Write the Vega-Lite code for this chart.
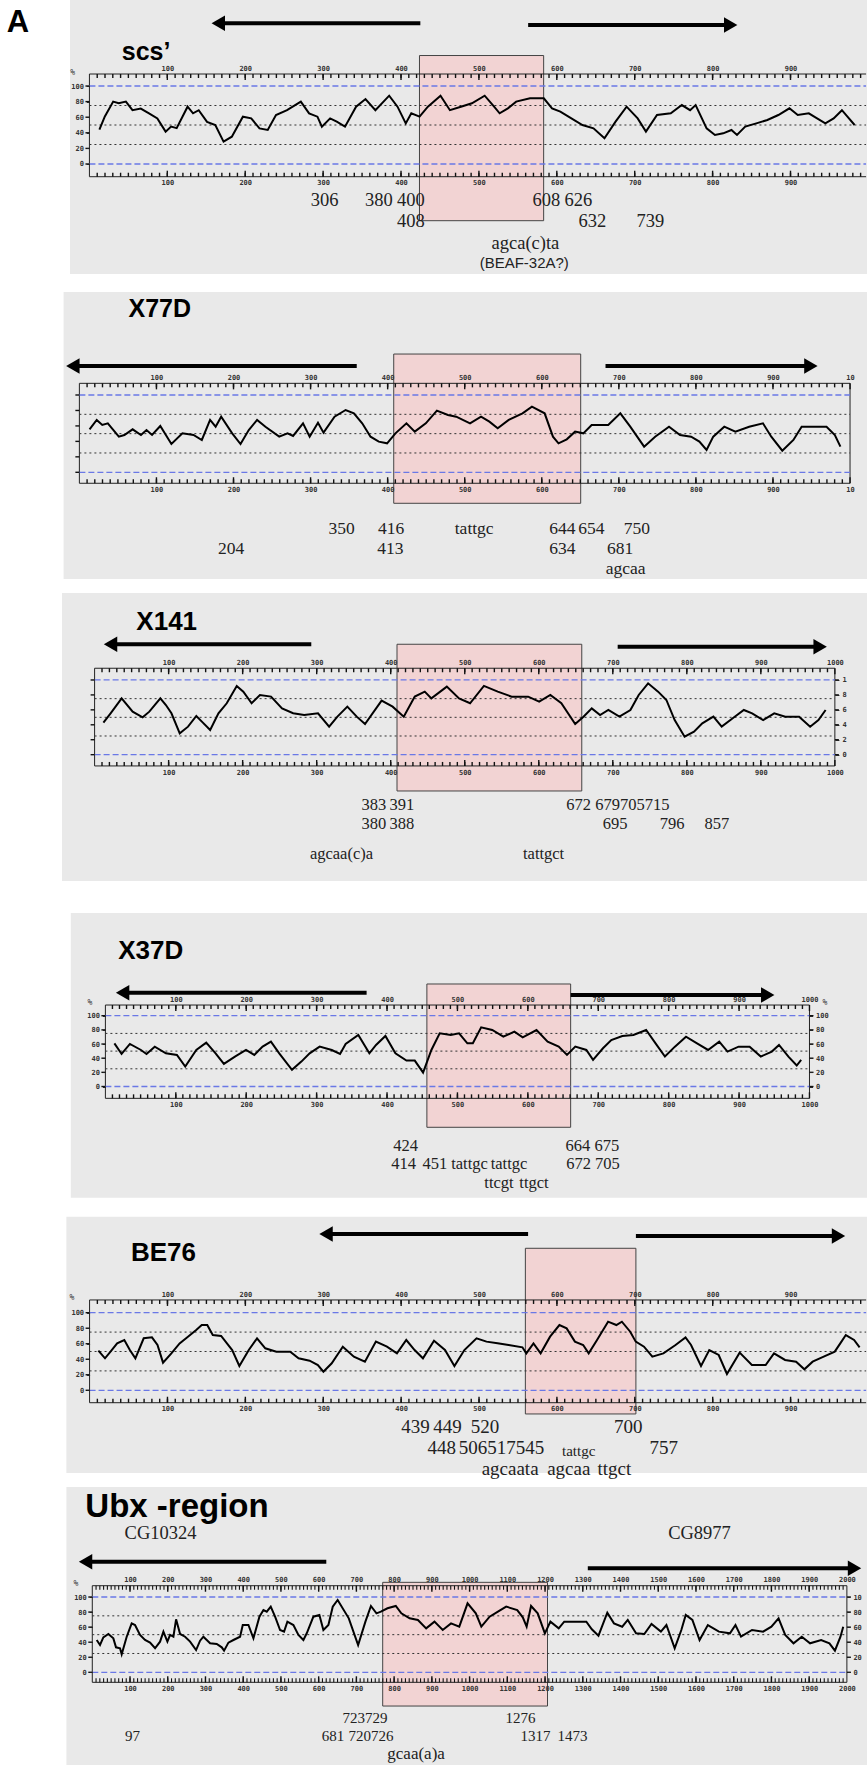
{
"$schema":"https://vega.github.io/schema/vega-lite/v6.json",
"padding":0,"background":"white","spacing":0,"bounds":"flush",
"config":{"view":{"stroke":null},"axis":{"labelFont":"DejaVu Sans Mono","labelFontSize":7,"labelFontWeight":"bold","labelColor":"#333","tickColor":"#222","tickWidth":1,"domain":false,"grid":false,"labelOverlap":false,"labelFlush":false}},
"datasets":{
"m1":[{"x":10},{"x":20},{"x":30},{"x":40},{"x":50},{"x":60},{"x":70},{"x":80},{"x":90},{"x":100},{"x":110},{"x":120},{"x":130},{"x":140},{"x":150},{"x":160},{"x":170},{"x":180},{"x":190},{"x":200},{"x":210},{"x":220},{"x":230},{"x":240},{"x":250},{"x":260},{"x":270},{"x":280},{"x":290},{"x":300},{"x":310},{"x":320},{"x":330},{"x":340},{"x":350},{"x":360},{"x":370},{"x":380},{"x":390},{"x":400},{"x":410},{"x":420},{"x":430},{"x":440},{"x":450},{"x":460},{"x":470},{"x":480},{"x":490},{"x":500},{"x":510},{"x":520},{"x":530},{"x":540},{"x":550},{"x":560},{"x":570},{"x":580},{"x":590},{"x":600},{"x":610},{"x":620},{"x":630},{"x":640},{"x":650},{"x":660},{"x":670},{"x":680},{"x":690},{"x":700},{"x":710},{"x":720},{"x":730},{"x":740},{"x":750},{"x":760},{"x":770},{"x":780},{"x":790},{"x":800},{"x":810},{"x":820},{"x":830},{"x":840},{"x":850},{"x":860},{"x":870},{"x":880},{"x":890},{"x":900},{"x":910},{"x":920},{"x":930},{"x":940},{"x":950},{"x":960},{"x":970},{"x":980},{"x":990}],
"m2":[{"x":10},{"x":20},{"x":30},{"x":40},{"x":50},{"x":60},{"x":70},{"x":80},{"x":90},{"x":100},{"x":110},{"x":120},{"x":130},{"x":140},{"x":150},{"x":160},{"x":170},{"x":180},{"x":190},{"x":200},{"x":210},{"x":220},{"x":230},{"x":240},{"x":250},{"x":260},{"x":270},{"x":280},{"x":290},{"x":300},{"x":310},{"x":320},{"x":330},{"x":340},{"x":350},{"x":360},{"x":370},{"x":380},{"x":390},{"x":400},{"x":410},{"x":420},{"x":430},{"x":440},{"x":450},{"x":460},{"x":470},{"x":480},{"x":490},{"x":500},{"x":510},{"x":520},{"x":530},{"x":540},{"x":550},{"x":560},{"x":570},{"x":580},{"x":590},{"x":600},{"x":610},{"x":620},{"x":630},{"x":640},{"x":650},{"x":660},{"x":670},{"x":680},{"x":690},{"x":700},{"x":710},{"x":720},{"x":730},{"x":740},{"x":750},{"x":760},{"x":770},{"x":780},{"x":790},{"x":800},{"x":810},{"x":820},{"x":830},{"x":840},{"x":850},{"x":860},{"x":870},{"x":880},{"x":890},{"x":900},{"x":910},{"x":920},{"x":930},{"x":940},{"x":950},{"x":960},{"x":970},{"x":980},{"x":990},{"x":1000},{"x":1010},{"x":1020},{"x":1030},{"x":1040},{"x":1050},{"x":1060},{"x":1070},{"x":1080},{"x":1090},{"x":1100},{"x":1110},{"x":1120},{"x":1130},{"x":1140},{"x":1150},{"x":1160},{"x":1170},{"x":1180},{"x":1190},{"x":1200},{"x":1210},{"x":1220},{"x":1230},{"x":1240},{"x":1250},{"x":1260},{"x":1270},{"x":1280},{"x":1290},{"x":1300},{"x":1310},{"x":1320},{"x":1330},{"x":1340},{"x":1350},{"x":1360},{"x":1370},{"x":1380},{"x":1390},{"x":1400},{"x":1410},{"x":1420},{"x":1430},{"x":1440},{"x":1450},{"x":1460},{"x":1470},{"x":1480},{"x":1490},{"x":1500},{"x":1510},{"x":1520},{"x":1530},{"x":1540},{"x":1550},{"x":1560},{"x":1570},{"x":1580},{"x":1590},{"x":1600},{"x":1610},{"x":1620},{"x":1630},{"x":1640},{"x":1650},{"x":1660},{"x":1670},{"x":1680},{"x":1690},{"x":1700},{"x":1710},{"x":1720},{"x":1730},{"x":1740},{"x":1750},{"x":1760},{"x":1770},{"x":1780},{"x":1790},{"x":1800},{"x":1810},{"x":1820},{"x":1830},{"x":1840},{"x":1850},{"x":1860},{"x":1870},{"x":1880},{"x":1890},{"x":1900},{"x":1910},{"x":1920},{"x":1930},{"x":1940},{"x":1950},{"x":1960},{"x":1970},{"x":1980},{"x":1990}],
"M9":[{"x":100},{"x":200},{"x":300},{"x":400},{"x":500},{"x":600},{"x":700},{"x":800},{"x":900}],
"M10":[{"x":100},{"x":200},{"x":300},{"x":400},{"x":500},{"x":600},{"x":700},{"x":800},{"x":900},{"x":1000}],
"M20":[{"x":100},{"x":200},{"x":300},{"x":400},{"x":500},{"x":600},{"x":700},{"x":800},{"x":900},{"x":1000},{"x":1100},{"x":1200},{"x":1300},{"x":1400},{"x":1500},{"x":1600},{"x":1700},{"x":1800},{"x":1900}],
"yt":[{"y":0},{"y":20},{"y":40},{"y":60},{"y":80},{"y":100}],
"c1":[{"x":12.8,"v":44},{"x":19.8,"v":61},{"x":30.5,"v":80},{"x":37.6,"v":78},{"x":46.8,"v":80},{"x":55.3,"v":69},{"x":65.9,"v":71},{"x":76.5,"v":65},{"x":87.2,"v":58.5},{"x":97.8,"v":41.5},{"x":104.9,"v":48},{"x":112,"v":46},{"x":126,"v":73.5},{"x":133,"v":65},{"x":140.3,"v":69},{"x":151,"v":54},{"x":161.6,"v":50},{"x":172.2,"v":28.6},{"x":182.8,"v":35},{"x":197,"v":60.7},{"x":207.7,"v":58.5},{"x":218.3,"v":45.7},{"x":228.9,"v":43.6},{"x":239.5,"v":62.8},{"x":253.7,"v":69},{"x":271.4,"v":80},{"x":282,"v":65},{"x":292.7,"v":60.7},{"x":298.4,"v":47.9},{"x":309,"v":58.5},{"x":317.5,"v":54.3},{"x":328.1,"v":47.9},{"x":342.3,"v":73.5},{"x":354.4,"v":83.3},{"x":367.1,"v":69},{"x":384.8,"v":87.6},{"x":395.5,"v":73.5},{"x":406.1,"v":52.1},{"x":413.2,"v":65},{"x":423.8,"v":60.7},{"x":434.5,"v":73.5},{"x":450.7,"v":87.6},{"x":462.8,"v":69},{"x":476.9,"v":73.5},{"x":491,"v":77.8},{"x":507.4,"v":87.6},{"x":519.5,"v":73.5},{"x":526.6,"v":65},{"x":537.2,"v":71.4},{"x":547.8,"v":80},{"x":565.6,"v":84.2},{"x":583.3,"v":84.2},{"x":593.9,"v":71.4},{"x":604.5,"v":67.1},{"x":618.7,"v":58.5},{"x":632.9,"v":50},{"x":647.1,"v":45.7},{"x":661.2,"v":33},{"x":675.4,"v":54.3},{"x":689.6,"v":73.5},{"x":703.8,"v":58.5},{"x":714.4,"v":41.5},{"x":728.6,"v":62.8},{"x":746.3,"v":65},{"x":760.5,"v":75.6},{"x":771.1,"v":69},{"x":778.2,"v":75.6},{"x":792.3,"v":45.7},{"x":803,"v":37.2},{"x":813.6,"v":39.3},{"x":824.2,"v":43.6},{"x":831.3,"v":37.2},{"x":841.9,"v":47.9},{"x":856.1,"v":52.1},{"x":870.3,"v":56.4},{"x":884.4,"v":62.8},{"x":898.6,"v":71.4},{"x":909.3,"v":62.8},{"x":923.5,"v":65},{"x":934.1,"v":58.5},{"x":944.7,"v":52.1},{"x":955.4,"v":58.5},{"x":966,"v":69},{"x":973.1,"v":60.7},{"x":982.3,"v":50}],
"c2":[{"x":13.2,"v":55.6},{"x":22.5,"v":67.7},{"x":29.7,"v":61.2},{"x":36.9,"v":63.4},{"x":51.2,"v":46.1},{"x":58.4,"v":48.3},{"x":69.1,"v":55.6},{"x":79.9,"v":48.3},{"x":87.1,"v":54.7},{"x":94.3,"v":48.3},{"x":105,"v":59.9},{"x":119.4,"v":36.6},{"x":133.7,"v":50.4},{"x":148.1,"v":48.3},{"x":158.9,"v":41.8},{"x":169.6,"v":67.7},{"x":176.8,"v":59},{"x":184,"v":72},{"x":198.3,"v":50.4},{"x":209.1,"v":36.6},{"x":219.8,"v":54.7},{"x":230.6,"v":67.7},{"x":241.4,"v":59},{"x":259.3,"v":46.1},{"x":270.1,"v":50.4},{"x":277.3,"v":47},{"x":290.2,"v":63.4},{"x":298.8,"v":46.1},{"x":309.6,"v":64.2},{"x":316.8,"v":51.3},{"x":331.1,"v":72},{"x":345.5,"v":80.6},{"x":356.2,"v":76.3},{"x":367,"v":63.4},{"x":377.8,"v":46.1},{"x":388.5,"v":39.7},{"x":399.3,"v":37.5},{"x":410.1,"v":50.4},{"x":424.4,"v":63.4},{"x":435.2,"v":52.6},{"x":449.5,"v":63.4},{"x":463.9,"v":79.7},{"x":478.2,"v":74.1},{"x":489,"v":72},{"x":506.9,"v":63.4},{"x":521.2,"v":72},{"x":532,"v":65.5},{"x":542.8,"v":56.9},{"x":557.1,"v":67.7},{"x":575,"v":76.3},{"x":587.2,"v":84.9},{"x":603.7,"v":76.3},{"x":614.5,"v":46.1},{"x":621.7,"v":37.5},{"x":632.4,"v":42.7},{"x":643.2,"v":52.6},{"x":653.9,"v":50.4},{"x":664.7,"v":61.2},{"x":686.2,"v":61.2},{"x":701.9,"v":76.3},{"x":714.8,"v":59},{"x":732.8,"v":33.2},{"x":747.1,"v":46.1},{"x":765.1,"v":59},{"x":779.4,"v":48.3},{"x":793.8,"v":46.1},{"x":804.5,"v":39.7},{"x":813.8,"v":28.9},{"x":822.5,"v":46.1},{"x":836.8,"v":59},{"x":851.2,"v":52.6},{"x":869.1,"v":59},{"x":887,"v":63.4},{"x":897.8,"v":46.1},{"x":912.1,"v":28},{"x":926.5,"v":41.8},{"x":937.2,"v":59},{"x":951.6,"v":59},{"x":969.5,"v":59},{"x":980.3,"v":48.3},{"x":987.5,"v":33.2}],
"c3":[{"x":11.9,"v":42.9},{"x":21.6,"v":55.4},{"x":36.5,"v":75.4},{"x":51.4,"v":57.6},{"x":64.9,"v":50},{"x":73.9,"v":57.6},{"x":88.8,"v":75.4},{"x":96.3,"v":66.5},{"x":103.8,"v":55.4},{"x":115,"v":28.6},{"x":126.2,"v":37.5},{"x":137.4,"v":51.8},{"x":144.9,"v":44.2},{"x":156.1,"v":33},{"x":167.3,"v":55.4},{"x":178.5,"v":68.8},{"x":192,"v":92},{"x":200.9,"v":84.4},{"x":212.1,"v":68.8},{"x":223.3,"v":79.9},{"x":238.3,"v":77.7},{"x":253.2,"v":62},{"x":268.2,"v":55.4},{"x":283.1,"v":53.1},{"x":301.8,"v":55.4},{"x":316.8,"v":37.5},{"x":328,"v":50.9},{"x":341.4,"v":64.3},{"x":354.1,"v":50.9},{"x":365.3,"v":41.1},{"x":387.7,"v":72.3},{"x":402.6,"v":64.3},{"x":417.6,"v":50.9},{"x":432.5,"v":77.7},{"x":446,"v":84.4},{"x":454.9,"v":75.4},{"x":475.8,"v":91.1},{"x":492.3,"v":75.4},{"x":507.2,"v":68.8},{"x":525.9,"v":92},{"x":544.6,"v":84.4},{"x":563.3,"v":77.7},{"x":585.7,"v":77.7},{"x":600.6,"v":71},{"x":615.6,"v":79.9},{"x":630.5,"v":68.8},{"x":649.2,"v":41.1},{"x":660.4,"v":50.9},{"x":671.6,"v":62},{"x":682.8,"v":53.1},{"x":694,"v":59.8},{"x":708.9,"v":50.9},{"x":723.8,"v":59.8},{"x":735,"v":79.9},{"x":747.7,"v":95.5},{"x":761.2,"v":84.4},{"x":772.4,"v":73.2},{"x":783.6,"v":46.4},{"x":797,"v":24.1},{"x":809.7,"v":30.8},{"x":820.9,"v":42},{"x":835.9,"v":50.9},{"x":847.1,"v":37.5},{"x":862,"v":48.7},{"x":877,"v":59.8},{"x":888.2,"v":55.4},{"x":903.1,"v":46.4},{"x":918.1,"v":55.4},{"x":933,"v":50.9},{"x":951.7,"v":50.9},{"x":966.6,"v":37.5},{"x":977.8,"v":46.4},{"x":987.5,"v":59.8}],
"c4":[{"x":12.8,"v":61},{"x":23,"v":46},{"x":34.8,"v":60.1},{"x":50.5,"v":51.6},{"x":58.4,"v":46},{"x":70.1,"v":56.3},{"x":85.9,"v":46.9},{"x":101.6,"v":44.6},{"x":113.4,"v":28.2},{"x":129.1,"v":51.6},{"x":143.2,"v":62},{"x":156.5,"v":46.9},{"x":168.3,"v":31.9},{"x":184,"v":42.3},{"x":199.7,"v":51.6},{"x":211.5,"v":44.6},{"x":223.3,"v":56.3},{"x":235.1,"v":63.4},{"x":246.9,"v":46.9},{"x":265,"v":23.5},{"x":278.3,"v":35.2},{"x":290.1,"v":46.9},{"x":304.3,"v":56.3},{"x":321.5,"v":51.6},{"x":333.3,"v":46},{"x":341.2,"v":60.1},{"x":359.2,"v":72.8},{"x":374.9,"v":46.9},{"x":384.4,"v":58.7},{"x":397.7,"v":71.4},{"x":411.9,"v":46.9},{"x":427.6,"v":36.6},{"x":439.4,"v":36.6},{"x":451.2,"v":19.7},{"x":463,"v":51.6},{"x":474.8,"v":75.1},{"x":490.5,"v":72.8},{"x":502.3,"v":75.1},{"x":514.1,"v":61},{"x":521.9,"v":61},{"x":533.7,"v":83.6},{"x":549.4,"v":79.8},{"x":565.2,"v":70.4},{"x":580.9,"v":77.5},{"x":592.7,"v":69.5},{"x":612.3,"v":79.8},{"x":628.1,"v":63.4},{"x":643.8,"v":56.3},{"x":655.6,"v":44.6},{"x":667.4,"v":56.3},{"x":683.1,"v":51.6},{"x":692.6,"v":37.6},{"x":706.7,"v":54},{"x":718.5,"v":65.7},{"x":734.2,"v":71.4},{"x":749.9,"v":72.8},{"x":768,"v":79.8},{"x":781.4,"v":61},{"x":794.7,"v":42.3},{"x":808.9,"v":56.3},{"x":824.6,"v":70.4},{"x":840.3,"v":61},{"x":856,"v":51.6},{"x":871.8,"v":63.4},{"x":883.6,"v":49.3},{"x":899.3,"v":56.3},{"x":915,"v":56.3},{"x":930.8,"v":42.3},{"x":946.5,"v":49.3},{"x":956.7,"v":58.7},{"x":970.1,"v":42.3},{"x":981.9,"v":29.6},{"x":988.2,"v":37.6}],
"c5":[{"x":11.3,"v":51.1},{"x":19.8,"v":41.2},{"x":26.9,"v":49.8},{"x":35.4,"v":60.5},{"x":44.6,"v":64.8},{"x":51.7,"v":51.9},{"x":58.8,"v":41.2},{"x":69.5,"v":67},{"x":80.1,"v":68.2},{"x":87.2,"v":58.4},{"x":94.3,"v":35.6},{"x":105,"v":47.6},{"x":115.6,"v":60.5},{"x":126.3,"v":69.1},{"x":136.9,"v":77.7},{"x":144,"v":84.1},{"x":151.1,"v":84.1},{"x":158.2,"v":71.2},{"x":168.9,"v":70},{"x":183.1,"v":51.9},{"x":192.3,"v":31.3},{"x":204.4,"v":51.9},{"x":215,"v":67},{"x":225.6,"v":54.1},{"x":239.8,"v":49.8},{"x":257.6,"v":49.8},{"x":268.3,"v":41.2},{"x":282.5,"v":38.2},{"x":293.1,"v":32.6},{"x":300.2,"v":24},{"x":310.9,"v":34.8},{"x":325.1,"v":56.2},{"x":339.3,"v":43.3},{"x":353.5,"v":36.9},{"x":367.6,"v":62.7},{"x":381.8,"v":56.2},{"x":394.6,"v":47.6},{"x":406.6,"v":64.8},{"x":417.3,"v":51.9},{"x":428,"v":41.2},{"x":442.2,"v":63.9},{"x":456.3,"v":51.9},{"x":468.4,"v":31.3},{"x":481.2,"v":51.9},{"x":496.8,"v":67},{"x":509.6,"v":62.7},{"x":523.8,"v":60.5},{"x":538,"v":58.4},{"x":555.7,"v":55.4},{"x":560.7,"v":47.6},{"x":569.9,"v":60.5},{"x":579.1,"v":47.6},{"x":591.2,"v":69.1},{"x":603.2,"v":84.1},{"x":612.5,"v":79.8},{"x":623.1,"v":62.7},{"x":633.7,"v":58.4},{"x":640.8,"v":47.6},{"x":651.5,"v":64.8},{"x":665.7,"v":88.4},{"x":676.3,"v":84.1},{"x":683.4,"v":88.4},{"x":694.1,"v":75.5},{"x":701.2,"v":62.7},{"x":711.8,"v":56.2},{"x":722.5,"v":43.3},{"x":736.7,"v":47.6},{"x":752.3,"v":58.4},{"x":765.1,"v":68.2},{"x":772.2,"v":58.4},{"x":785,"v":31.3},{"x":795.6,"v":51.9},{"x":807.7,"v":45.5},{"x":818.3,"v":21},{"x":834.6,"v":48.5},{"x":850.3,"v":32.6},{"x":868,"v":32.6},{"x":878.7,"v":47.6},{"x":892.9,"v":39.1},{"x":907.1,"v":36.9},{"x":917.7,"v":27},{"x":928.3,"v":36.9},{"x":942.5,"v":43.3},{"x":956.7,"v":49.8},{"x":963.8,"v":60.5},{"x":970.9,"v":71.2},{"x":981.5,"v":64.8},{"x":988.6,"v":55.4}],
"c6":[{"x":11.7,"v":42.9},{"x":20.5,"v":36.3},{"x":29.3,"v":46.5},{"x":42.6,"v":50.9},{"x":55.8,"v":45.1},{"x":62.9,"v":33.2},{"x":73.5,"v":31.9},{"x":77.9,"v":23.9},{"x":91.2,"v":47.3},{"x":104.4,"v":65},{"x":113.3,"v":62.8},{"x":126.5,"v":49.6},{"x":139.8,"v":42.9},{"x":153.1,"v":39.4},{"x":166.4,"v":31.9},{"x":179.6,"v":40.7},{"x":188.5,"v":54},{"x":199.1,"v":40.7},{"x":206.2,"v":49.6},{"x":215,"v":47.3},{"x":222.1,"v":70.4},{"x":232.7,"v":50.9},{"x":245.9,"v":47.3},{"x":259.2,"v":40.7},{"x":275.1,"v":29.6},{"x":285.7,"v":42},{"x":294.5,"v":47.3},{"x":312.2,"v":38.5},{"x":329.9,"v":37.6},{"x":343.1,"v":33.2},{"x":349.3,"v":28.8},{"x":360.8,"v":39.4},{"x":374.1,"v":42.9},{"x":391.7,"v":47.3},{"x":398.8,"v":62.8},{"x":413.8,"v":62.8},{"x":427.1,"v":45.1},{"x":443,"v":73.9},{"x":453.6,"v":82.7},{"x":462.4,"v":80.5},{"x":473,"v":87.2},{"x":484.5,"v":73.9},{"x":497.7,"v":56.2},{"x":508.3,"v":54},{"x":517.1,"v":67.3},{"x":533,"v":62.8},{"x":546.3,"v":49.6},{"x":559.5,"v":42.9},{"x":568.4,"v":51.8},{"x":586,"v":73.9},{"x":601.9,"v":76.1},{"x":612.5,"v":56.2},{"x":625.8,"v":62.8},{"x":637.3,"v":87.2},{"x":650.3,"v":96},{"x":679.8,"v":71.7},{"x":704.6,"v":36.3},{"x":723.9,"v":67.3},{"x":738.5,"v":88.1},{"x":753.2,"v":78.3},{"x":764.9,"v":80.5},{"x":782.4,"v":85},{"x":804.4,"v":88.1},{"x":819.1,"v":78.3},{"x":841,"v":71.7},{"x":863,"v":69.5},{"x":884.9,"v":58.4},{"x":906.9,"v":67.3},{"x":928.8,"v":56.2},{"x":950.8,"v":65},{"x":972.7,"v":60.6},{"x":994.6,"v":91.6},{"x":1016.5,"v":78.3},{"x":1031.1,"v":60.6},{"x":1053.1,"v":73.9},{"x":1075.1,"v":80.5},{"x":1097,"v":87.2},{"x":1126.3,"v":82.7},{"x":1141,"v":73},{"x":1151.2,"v":60.6},{"x":1162.9,"v":88.1},{"x":1180.5,"v":78.3},{"x":1199.5,"v":51.8},{"x":1214.2,"v":67.3},{"x":1236.2,"v":58.4},{"x":1250.8,"v":67.3},{"x":1280.1,"v":67.3},{"x":1309.4,"v":67.3},{"x":1324,"v":57.1},{"x":1341.6,"v":48.7},{"x":1365,"v":79.2},{"x":1382.6,"v":65},{"x":1404.5,"v":60.6},{"x":1419.2,"v":69.5},{"x":1441.2,"v":51.8},{"x":1463.1,"v":50.9},{"x":1482.1,"v":64.2},{"x":1507,"v":54},{"x":1521.7,"v":62.8},{"x":1543.6,"v":31.9},{"x":1561.2,"v":56.2},{"x":1572.9,"v":76.1},{"x":1590.5,"v":69.5},{"x":1609.5,"v":42.9},{"x":1631.5,"v":62.8},{"x":1660.8,"v":54},{"x":1690.1,"v":51.8},{"x":1704.7,"v":62.8},{"x":1719.4,"v":47.3},{"x":1748.6,"v":56.2},{"x":1777.9,"v":54},{"x":1799.9,"v":60.6},{"x":1818.9,"v":71.7},{"x":1836.5,"v":49.6},{"x":1858.5,"v":38.5},{"x":1880.4,"v":47.3},{"x":1902.4,"v":38.5},{"x":1931.7,"v":42.9},{"x":1953.7,"v":38.5},{"x":1968.3,"v":28.8},{"x":1983,"v":47.3},{"x":1990.3,"v":60.6}]
},
"vconcat":[
{"width":867,"height":283,"resolve":{"axis":{"x":"independent","y":"independent"}},
"layer":[
{"data":{"values":[{"x1":-24.9,"x2":998.2,"y1":-141,"y2":210.3}]},"mark":{"type":"rect","fill":"#e9e9e9"},
"encoding":{"x":{"field":"x1","type":"quantitative","scale":{"domain":[-114.8,998.2],"nice":false,"zero":false},"axis":{"orient":"bottom","offset":-106.3,"title":null,"format":"d","values":[100,200,300,400,500,600,700,800,900],"ticks":false,"labelPadding":2,"zindex":1}},"x2":{"field":"x2"},
"y":{"field":"y1","type":"quantitative","scale":{"domain":[-152.6,210.3],"nice":false,"zero":false},"axis":{"orient":"left","offset":-89.4,"title":null,"values":[0,20,40,60,80,100],"tickSize":3,"labelPadding":3,"zindex":1}},"y2":{"field":"y2"}}},
{"data":{"values":[{"x1":423.7,"x2":583.1,"y1":-72.7,"y2":139.1}]},"mark":{"type":"rect","fill":"#f2d3d3","stroke":"#444","strokeWidth":1},
"encoding":{"x":{"field":"x1","type":"quantitative","axis":{"orient":"top","offset":-74,"title":null,"format":"d","values":[100,200,300,400,500,600,700,800,900],"ticks":false,"labelPadding":3,"zindex":1}},"x2":{"field":"x2"},"y":{"field":"y1","type":"quantitative","axis":null},"y2":{"field":"y2"}}},
{"data":{"values":[{"x1":0,"x2":997,"y1":115.4,"y2":115.4},{"x1":0,"x2":997,"y1":-16.3,"y2":-16.3},{"x1":0,"x2":0,"y1":-16.3,"y2":115.4}]},"mark":{"type":"rule","color":"#222","strokeWidth":1},
"encoding":{"x":{"field":"x1","type":"quantitative","axis":null},"x2":{"field":"x2"},"y":{"field":"y1","type":"quantitative","axis":null},"y2":{"field":"y2"}}},
{"data":{"values":[{"x1":0,"x2":997,"y":0},{"x1":0,"x2":997,"y":100}]},"mark":{"type":"rule","color":"#6a78e6","strokeWidth":1.3,"strokeDash":[6,3]},
"encoding":{"x":{"field":"x1","type":"quantitative","axis":null},"x2":{"field":"x2"},"y":{"field":"y","type":"quantitative","axis":null}}},
{"data":{"values":[{"x1":0,"x2":997,"y":25},{"x1":0,"x2":997,"y":50},{"x1":0,"x2":997,"y":75}]},"mark":{"type":"rule","color":"#333","strokeWidth":1,"strokeDash":[2,3]},
"encoding":{"x":{"field":"x1","type":"quantitative","axis":null},"x2":{"field":"x2"},"y":{"field":"y","type":"quantitative","axis":null}}},
{"data":{"name":"m1"},"mark":{"type":"rule","color":"#111","strokeWidth":1.4},"encoding":{"x":{"field":"x","type":"quantitative","axis":null},"y":{"datum":115.4,"type":"quantitative","axis":null},"y2":{"datum":110.3}}},
{"data":{"name":"m1"},"mark":{"type":"rule","color":"#111","strokeWidth":1.4},"encoding":{"x":{"field":"x","type":"quantitative","axis":null},"y":{"datum":-16.3,"type":"quantitative","axis":null},"y2":{"datum":-11.2}}},
{"data":{"name":"M9"},"mark":{"type":"rule","color":"#111","strokeWidth":1.4},"encoding":{"x":{"field":"x","type":"quantitative","axis":null},"y":{"datum":115.4,"type":"quantitative","axis":null},"y2":{"datum":107.7}}},
{"data":{"name":"M9"},"mark":{"type":"rule","color":"#111","strokeWidth":1.4},"encoding":{"x":{"field":"x","type":"quantitative","axis":null},"y":{"datum":-16.3,"type":"quantitative","axis":null},"y2":{"datum":-8.6}}},
{"data":{"name":"yt"},"mark":{"type":"rule","color":"#111","strokeWidth":1.4},"encoding":{"y":{"field":"y","type":"quantitative","axis":null},"x":{"datum":0,"type":"quantitative","axis":null},"x2":{"datum":-5.1}}},
{"data":{"name":"c1"},"mark":{"type":"line","color":"black","strokeWidth":2},"encoding":{"x":{"field":"x","type":"quantitative","axis":null},"y":{"field":"v","type":"quantitative","axis":null}}},
{"data":{"values":[{"x1":165.4,"x2":424.8,"y":180.4},{"x1":563.2,"x2":823.2,"y":178.2}]},"mark":{"type":"rule","color":"black","strokeWidth":4},
"encoding":{"x":{"field":"x1","type":"quantitative","axis":null},"x2":{"field":"x2"},"y":{"field":"y","type":"quantitative","axis":null}}},
{"data":{"values":[{"x":165.4,"y":180.4,"d":"L"},{"x":823.2,"y":178.2,"d":"R"}]},"mark":{"type":"point","filled":true,"color":"black","size":240,"opacity":1,"strokeWidth":0},
"encoding":{"x":{"field":"x","type":"quantitative","axis":null},"y":{"field":"y","type":"quantitative","axis":null},"shape":{"field":"d","type":"nominal","scale":{"domain":["L","R"],"range":["triangle-left","triangle-right"]},"legend":null}}},
{"data":{"values":[{"x":301.9,"y":-46.2,"t":"306"},{"x":371.5,"y":-46.2,"t":"380"},{"x":412.7,"y":-46.2,"t":"400"},{"x":586.7,"y":-46.2,"t":"608"},{"x":627.7,"y":-46.2,"t":"626"},{"x":412.7,"y":-72.7,"t":"408"},{"x":645.6,"y":-72.7,"t":"632"},{"x":720.0,"y":-72.7,"t":"739"},{"x":559.7,"y":-100.9,"t":"agca(c)ta"}]},
"mark":{"type":"text","font":"Liberation Serif","fontSize":18.5,"color":"#222","align":"center","baseline":"middle"},
"encoding":{"x":{"field":"x","type":"quantitative","axis":null},"y":{"field":"y","type":"quantitative","axis":null},"text":{"field":"t"}}},
{"data":{"values":[{"x":558.2,"y":-127.3,"t":"(BEAF-32A?)"}]},"mark":{"type":"text","font":"Liberation Sans","fontSize":15,"color":"#222","align":"center","baseline":"middle"},
"encoding":{"x":{"field":"x","type":"quantitative","axis":null},"y":{"field":"y","type":"quantitative","axis":null},"text":{"field":"t"}}},
{"data":{"values":[{"x":72.7,"y":133.3,"t":"scs’"}]},"mark":{"type":"text","font":"Liberation Sans","fontWeight":"bold","fontSize":25,"color":"black","align":"center","baseline":"alphabetic"},
"encoding":{"x":{"field":"x","type":"quantitative","axis":null},"y":{"field":"y","type":"quantitative","axis":null},"text":{"field":"t"}}},
{"data":{"values":[{"x":-91.7,"y":169.2,"t":"A"}]},"mark":{"type":"text","font":"Liberation Sans","fontWeight":"bold","fontSize":31,"color":"black","align":"center","baseline":"alphabetic"},
"encoding":{"x":{"field":"x","type":"quantitative","axis":null},"y":{"field":"y","type":"quantitative","axis":null},"text":{"field":"t"}}},
{"data":{"values":[{"x":-21.4,"y":116.3,"t":"%"}]},"mark":{"type":"text","font":"DejaVu Sans Mono","fontSize":8,"color":"#333","align":"center","baseline":"middle"},
"encoding":{"x":{"field":"x","type":"quantitative","axis":null},"y":{"field":"y","type":"quantitative","axis":null},"text":{"field":"t"}}}
]},
{"width":867,"height":303,"resolve":{"axis":{"x":"independent","y":"independent"}},
"layer":[
{"data":{"values":[{"x1":-20.5,"x2":1022,"y1":-138,"y2":233.2}]},"mark":{"type":"rect","fill":"#e9e9e9"},
"encoding":{"x":{"field":"x1","type":"quantitative","scale":{"domain":[-103.0,1022.0],"nice":false,"zero":false},"axis":{"orient":"bottom","offset":-102.7,"title":null,"format":"d","values":[100,200,300,400,500,600,700,800,900,1000],"ticks":false,"labelPadding":2,"zindex":1,"labelExpr":"datum.value === 1000 ? '10' : datum.label"}},"x2":{"field":"x2"},
"y":{"field":"y1","type":"quantitative","scale":{"domain":[-147.1,244.9],"nice":false,"zero":false},"axis":null},"y2":{"field":"y2"}}},
{"data":{"values":[{"x1":407.9,"x2":650.5,"y1":-40.1,"y2":153.0}]},"mark":{"type":"rect","fill":"#f2d3d3","stroke":"#444","strokeWidth":1},
"encoding":{"x":{"field":"x1","type":"quantitative","axis":{"orient":"top","offset":-100.3,"title":null,"format":"d","values":[100,200,300,400,500,600,700,800,900,1000],"ticks":false,"labelPadding":3,"zindex":1,"labelExpr":"datum.value === 1000 ? '10' : datum.label"}},"x2":{"field":"x2"},"y":{"field":"y1","type":"quantitative","axis":null},"y2":{"field":"y2"}}},
{"data":{"values":[{"x1":0,"x2":1000,"y1":115.1,"y2":115.1},{"x1":0,"x2":1000,"y1":-14.2,"y2":-14.2},{"x1":0,"x2":0,"y1":-14.2,"y2":115.1},{"x1":1000,"x2":1000,"y1":-14.2,"y2":115.1}]},"mark":{"type":"rule","color":"#222","strokeWidth":1},
"encoding":{"x":{"field":"x1","type":"quantitative","axis":null},"x2":{"field":"x2"},"y":{"field":"y1","type":"quantitative","axis":null},"y2":{"field":"y2"}}},
{"data":{"values":[{"x1":0,"x2":1000,"y":0},{"x1":0,"x2":1000,"y":100}]},"mark":{"type":"rule","color":"#6a78e6","strokeWidth":1.3,"strokeDash":[6,3]},
"encoding":{"x":{"field":"x1","type":"quantitative","axis":null},"x2":{"field":"x2"},"y":{"field":"y","type":"quantitative","axis":null}}},
{"data":{"values":[{"x1":0,"x2":1000,"y":25},{"x1":0,"x2":1000,"y":50},{"x1":0,"x2":1000,"y":75}]},"mark":{"type":"rule","color":"#333","strokeWidth":1,"strokeDash":[2,3]},
"encoding":{"x":{"field":"x1","type":"quantitative","axis":null},"x2":{"field":"x2"},"y":{"field":"y","type":"quantitative","axis":null}}},
{"data":{"name":"m1"},"mark":{"type":"rule","color":"#111","strokeWidth":1.4},"encoding":{"x":{"field":"x","type":"quantitative","axis":null},"y":{"datum":115.1,"type":"quantitative","axis":null},"y2":{"datum":109.9}}},
{"data":{"name":"m1"},"mark":{"type":"rule","color":"#111","strokeWidth":1.4},"encoding":{"x":{"field":"x","type":"quantitative","axis":null},"y":{"datum":-14.2,"type":"quantitative","axis":null},"y2":{"datum":-9.0}}},
{"data":{"name":"M10"},"mark":{"type":"rule","color":"#111","strokeWidth":1.4},"encoding":{"x":{"field":"x","type":"quantitative","axis":null},"y":{"datum":115.1,"type":"quantitative","axis":null},"y2":{"datum":107.3}}},
{"data":{"name":"M10"},"mark":{"type":"rule","color":"#111","strokeWidth":1.4},"encoding":{"x":{"field":"x","type":"quantitative","axis":null},"y":{"datum":-14.2,"type":"quantitative","axis":null},"y2":{"datum":-6.4}}},
{"data":{"name":"yt"},"mark":{"type":"rule","color":"#111","strokeWidth":1.4},"encoding":{"y":{"field":"y","type":"quantitative","axis":null},"x":{"datum":0,"type":"quantitative","axis":null},"x2":{"datum":-5.2}}},
{"data":{"name":"c2"},"mark":{"type":"line","color":"black","strokeWidth":2},"encoding":{"x":{"field":"x","type":"quantitative","axis":null},"y":{"field":"v","type":"quantitative","axis":null}}},
{"data":{"values":[{"x1":-8.5,"x2":359.9,"y":137.5},{"x1":682.7,"x2":949.2,"y":137.5}]},"mark":{"type":"rule","color":"black","strokeWidth":4},
"encoding":{"x":{"field":"x1","type":"quantitative","axis":null},"x2":{"field":"x2"},"y":{"field":"y","type":"quantitative","axis":null}}},
{"data":{"values":[{"x":-8.5,"y":137.5,"d":"L"},{"x":949.2,"y":137.5,"d":"R"}]},"mark":{"type":"point","filled":true,"color":"black","size":240,"opacity":1,"strokeWidth":0},
"encoding":{"x":{"field":"x","type":"quantitative","axis":null},"y":{"field":"y","type":"quantitative","axis":null},"shape":{"field":"d","type":"nominal","scale":{"domain":["L","R"],"range":["triangle-left","triangle-right"]},"legend":null}}},
{"data":{"values":[{"x":340.4,"y":-73.7,"t":"350"},{"x":404.4,"y":-73.7,"t":"416"},{"x":512.3,"y":-73.7,"t":"tattgc"},{"x":626.8,"y":-73.7,"t":"644"},{"x":664.4,"y":-73.7,"t":"654"},{"x":723.3,"y":-73.7,"t":"750"},{"x":197.0,"y":-99.6,"t":"204"},{"x":403.6,"y":-99.6,"t":"413"},{"x":626.8,"y":-99.6,"t":"634"},{"x":701.8,"y":-99.6,"t":"681"},{"x":708.9,"y":-124.7,"t":"agcaa"}]},
"mark":{"type":"text","font":"Liberation Serif","fontSize":17.5,"color":"#222","align":"center","baseline":"middle"},
"encoding":{"x":{"field":"x","type":"quantitative","axis":null},"y":{"field":"y","type":"quantitative","axis":null},"text":{"field":"t"}}},
{"data":{"values":[{"x":104.3,"y":200.5,"t":"X77D"}]},"mark":{"type":"text","font":"Liberation Sans","fontWeight":"bold","fontSize":25,"color":"black","align":"center","baseline":"alphabetic"},
"encoding":{"x":{"field":"x","type":"quantitative","axis":null},"y":{"field":"y","type":"quantitative","axis":null},"text":{"field":"t"}}}
]},
{"width":867,"height":310,"resolve":{"axis":{"x":"independent","y":"independent"}},
"layer":[
{"data":{"values":[{"x1":-44.0,"x2":1043.4,"y1":-169.1,"y2":216.5}]},"mark":{"type":"rect","fill":"#e9e9e9"},
"encoding":{"x":{"field":"x1","type":"quantitative","scale":{"domain":[-127.8,1043.4],"nice":false,"zero":false},"axis":{"orient":"bottom","offset":-130,"title":null,"format":"d","values":[100,200,300,400,500,600,700,800,900,1000],"ticks":false,"labelPadding":2,"zindex":1}},"x2":{"field":"x2"},
"y":{"field":"y1","type":"quantitative","scale":{"domain":[-189.2,225.8],"nice":false,"zero":false},"axis":null},"y2":{"field":"y2"}}},
{"data":{"values":[{"x1":408.5,"x2":658.1,"y1":-48.6,"y2":147.8}]},"mark":{"type":"rect","fill":"#f2d3d3","stroke":"#444","strokeWidth":1},
"encoding":{"x":{"field":"x1","type":"quantitative","axis":{"orient":"top","offset":-82.2,"title":null,"format":"d","values":[100,200,300,400,500,600,700,800,900,1000],"ticks":false,"labelPadding":3,"zindex":1}},"x2":{"field":"x2"},"y":{"field":"y1","type":"quantitative","axis":null},"y2":{"field":"y2"}}},
{"data":{"values":[{"x1":0,"x2":1000,"y1":115.7,"y2":115.7},{"x1":0,"x2":1000,"y1":-15.1,"y2":-15.1},{"x1":0,"x2":0,"y1":-15.1,"y2":115.7},{"x1":1000,"x2":1000,"y1":-15.1,"y2":115.7}]},"mark":{"type":"rule","color":"#222","strokeWidth":1},
"encoding":{"x":{"field":"x1","type":"quantitative","axis":null},"x2":{"field":"x2"},"y":{"field":"y1","type":"quantitative","axis":{"orient":"right","offset":-32.1,"title":null,"values":[0,20,40,60,80,100],"tickSize":4,"labelPadding":3,"zindex":1,"labelExpr":"substring(datum.label,0,1)"}},"y2":{"field":"y2"}}},
{"data":{"values":[{"x1":0,"x2":1000,"y":0},{"x1":0,"x2":1000,"y":100}]},"mark":{"type":"rule","color":"#6a78e6","strokeWidth":1.3,"strokeDash":[6,3]},
"encoding":{"x":{"field":"x1","type":"quantitative","axis":null},"x2":{"field":"x2"},"y":{"field":"y","type":"quantitative","axis":null}}},
{"data":{"values":[{"x1":0,"x2":1000,"y":25},{"x1":0,"x2":1000,"y":50},{"x1":0,"x2":1000,"y":75}]},"mark":{"type":"rule","color":"#333","strokeWidth":1,"strokeDash":[2,3]},
"encoding":{"x":{"field":"x1","type":"quantitative","axis":null},"x2":{"field":"x2"},"y":{"field":"y","type":"quantitative","axis":null}}},
{"data":{"name":"m1"},"mark":{"type":"rule","color":"#111","strokeWidth":1.4},"encoding":{"x":{"field":"x","type":"quantitative","axis":null},"y":{"datum":115.7,"type":"quantitative","axis":null},"y2":{"datum":110.35}}},
{"data":{"name":"m1"},"mark":{"type":"rule","color":"#111","strokeWidth":1.4},"encoding":{"x":{"field":"x","type":"quantitative","axis":null},"y":{"datum":-15.1,"type":"quantitative","axis":null},"y2":{"datum":-9.75}}},
{"data":{"name":"M10"},"mark":{"type":"rule","color":"#111","strokeWidth":1.4},"encoding":{"x":{"field":"x","type":"quantitative","axis":null},"y":{"datum":115.7,"type":"quantitative","axis":null},"y2":{"datum":107.7}}},
{"data":{"name":"M10"},"mark":{"type":"rule","color":"#111","strokeWidth":1.4},"encoding":{"x":{"field":"x","type":"quantitative","axis":null},"y":{"datum":-15.1,"type":"quantitative","axis":null},"y2":{"datum":-7.1}}},
{"data":{"name":"yt"},"mark":{"type":"rule","color":"#111","strokeWidth":1.4},"encoding":{"y":{"field":"y","type":"quantitative","axis":null},"x":{"datum":0,"type":"quantitative","axis":null},"x2":{"datum":-5.4}}},
{"data":{"name":"yt"},"mark":{"type":"rule","color":"#111","strokeWidth":1.4},"encoding":{"y":{"field":"y","type":"quantitative","axis":null},"x":{"datum":1000,"type":"quantitative","axis":null},"x2":{"datum":1005.4}}},
{"data":{"name":"c3"},"mark":{"type":"line","color":"black","strokeWidth":2},"encoding":{"x":{"field":"x","type":"quantitative","axis":null},"y":{"field":"v","type":"quantitative","axis":null}}},
{"data":{"values":[{"x1":21.5,"x2":292.7,"y":147.8},{"x1":706.6,"x2":980.1,"y":144.6}]},"mark":{"type":"rule","color":"black","strokeWidth":4},
"encoding":{"x":{"field":"x1","type":"quantitative","axis":null},"x2":{"field":"x2"},"y":{"field":"y","type":"quantitative","axis":null}}},
{"data":{"values":[{"x":21.5,"y":147.8,"d":"L"},{"x":980.1,"y":144.6,"d":"R"}]},"mark":{"type":"point","filled":true,"color":"black","size":240,"opacity":1,"strokeWidth":0},
"encoding":{"x":{"field":"x","type":"quantitative","axis":null},"y":{"field":"y","type":"quantitative","axis":null},"shape":{"field":"d","type":"nominal","scale":{"domain":["L","R"],"range":["triangle-left","triangle-right"]},"legend":null}}},
{"data":{"values":[{"x":377.1,"y":-67.3,"t":"383"},{"x":415.0,"y":-67.3,"t":"391"},{"x":653.9,"y":-67.3,"t":"672"},{"x":726.6,"y":-67.3,"t":"679705715"},{"x":377.1,"y":-92.8,"t":"380"},{"x":415.0,"y":-92.8,"t":"388"},{"x":703.2,"y":-92.8,"t":"695"},{"x":780.2,"y":-92.8,"t":"796"},{"x":840.7,"y":-92.8,"t":"857"},{"x":333.5,"y":-132.9,"t":"agcaa(c)a"},{"x":606.5,"y":-132.9,"t":"tattgct"}]},
"mark":{"type":"text","font":"Liberation Serif","fontSize":16.5,"color":"#222","align":"center","baseline":"middle"},
"encoding":{"x":{"field":"x","type":"quantitative","axis":null},"y":{"field":"y","type":"quantitative","axis":null},"text":{"field":"t"}}},
{"data":{"values":[{"x":97.4,"y":166.9,"t":"X141"}]},"mark":{"type":"text","font":"Liberation Sans","fontWeight":"bold","fontSize":26,"color":"black","align":"center","baseline":"alphabetic"},
"encoding":{"x":{"field":"x","type":"quantitative","axis":null},"y":{"field":"y","type":"quantitative","axis":null},"text":{"field":"t"}}}
]},
{"width":867,"height":311,"resolve":{"axis":{"x":"independent","y":"independent"}},
"layer":[
{"data":{"values":[{"x1":-49.1,"x2":1081.7,"y1":-157.1,"y2":245.1}]},"mark":{"type":"rect","fill":"#e9e9e9"},
"encoding":{"x":{"field":"x1","type":"quantitative","scale":{"domain":[-149.7,1081.7],"nice":false,"zero":false},"axis":{"orient":"bottom","offset":-108.7,"title":null,"format":"d","values":[100,200,300,400,500,600,700,800,900,1000],"ticks":false,"labelPadding":2,"zindex":1}},"x2":{"field":"x2"},
"y":{"field":"y1","type":"quantitative","scale":{"domain":[-170.2,269.1],"nice":false,"zero":false},"axis":{"orient":"left","offset":-105.4,"title":null,"values":[0,20,40,60,80,100],"tickSize":3,"labelPadding":3,"zindex":1}},"y2":{"field":"y2"}}},
{"data":{"values":[{"x1":456.6,"x2":660.8,"y1":-57.6,"y2":144.8}]},"mark":{"type":"rect","fill":"#f2d3d3","stroke":"#444","strokeWidth":1},
"encoding":{"x":{"field":"x1","type":"quantitative","axis":{"orient":"top","offset":-109,"title":null,"format":"d","values":[100,200,300,400,500,600,700,800,900,1000],"ticks":false,"labelPadding":3,"zindex":1}},"x2":{"field":"x2"},"y":{"field":"y1","type":"quantitative","axis":null},"y2":{"field":"y2"}}},
{"data":{"values":[{"x1":0,"x2":1000,"y1":115.1,"y2":115.1},{"x1":0,"x2":1000,"y1":-16.7,"y2":-16.7},{"x1":0,"x2":0,"y1":-16.7,"y2":115.1},{"x1":1000,"x2":1000,"y1":-16.7,"y2":115.1}]},"mark":{"type":"rule","color":"#222","strokeWidth":1},
"encoding":{"x":{"field":"x1","type":"quantitative","axis":null},"x2":{"field":"x2"},"y":{"field":"y1","type":"quantitative","axis":{"orient":"right","offset":-57.5,"title":null,"values":[0,20,40,60,80,100],"tickSize":3,"labelPadding":3,"zindex":1}},"y2":{"field":"y2"}}},
{"data":{"values":[{"x1":0,"x2":1000,"y":0},{"x1":0,"x2":1000,"y":100}]},"mark":{"type":"rule","color":"#6a78e6","strokeWidth":1.3,"strokeDash":[6,3]},
"encoding":{"x":{"field":"x1","type":"quantitative","axis":null},"x2":{"field":"x2"},"y":{"field":"y","type":"quantitative","axis":null}}},
{"data":{"values":[{"x1":0,"x2":1000,"y":25},{"x1":0,"x2":1000,"y":50},{"x1":0,"x2":1000,"y":75}]},"mark":{"type":"rule","color":"#333","strokeWidth":1,"strokeDash":[2,3]},
"encoding":{"x":{"field":"x1","type":"quantitative","axis":null},"x2":{"field":"x2"},"y":{"field":"y","type":"quantitative","axis":null}}},
{"data":{"name":"m1"},"mark":{"type":"rule","color":"#111","strokeWidth":1.4},"encoding":{"x":{"field":"x","type":"quantitative","axis":null},"y":{"datum":115.1,"type":"quantitative","axis":null},"y2":{"datum":109.45}}},
{"data":{"name":"m1"},"mark":{"type":"rule","color":"#111","strokeWidth":1.4},"encoding":{"x":{"field":"x","type":"quantitative","axis":null},"y":{"datum":-16.7,"type":"quantitative","axis":null},"y2":{"datum":-11.05}}},
{"data":{"name":"M10"},"mark":{"type":"rule","color":"#111","strokeWidth":1.4},"encoding":{"x":{"field":"x","type":"quantitative","axis":null},"y":{"datum":115.1,"type":"quantitative","axis":null},"y2":{"datum":106.6}}},
{"data":{"name":"M10"},"mark":{"type":"rule","color":"#111","strokeWidth":1.4},"encoding":{"x":{"field":"x","type":"quantitative","axis":null},"y":{"datum":-16.7,"type":"quantitative","axis":null},"y2":{"datum":-8.2}}},
{"data":{"name":"yt"},"mark":{"type":"rule","color":"#111","strokeWidth":1.4},"encoding":{"y":{"field":"y","type":"quantitative","axis":null},"x":{"datum":0,"type":"quantitative","axis":null},"x2":{"datum":-5.7}}},
{"data":{"name":"yt"},"mark":{"type":"rule","color":"#111","strokeWidth":1.4},"encoding":{"y":{"field":"y","type":"quantitative","axis":null},"x":{"datum":1000,"type":"quantitative","axis":null},"x2":{"datum":1005.7}}},
{"data":{"name":"c4"},"mark":{"type":"line","color":"black","strokeWidth":2},"encoding":{"x":{"field":"x","type":"quantitative","axis":null},"y":{"field":"v","type":"quantitative","axis":null}}},
{"data":{"values":[{"x1":24.4,"x2":371.0,"y":132.5},{"x1":660.8,"x2":940.7,"y":129.2}]},"mark":{"type":"rule","color":"black","strokeWidth":4},
"encoding":{"x":{"field":"x1","type":"quantitative","axis":null},"x2":{"field":"x2"},"y":{"field":"y","type":"quantitative","axis":null}}},
{"data":{"values":[{"x":24.4,"y":132.5,"d":"L"},{"x":940.7,"y":129.2,"d":"R"}]},"mark":{"type":"point","filled":true,"color":"black","size":240,"opacity":1,"strokeWidth":0},
"encoding":{"x":{"field":"x","type":"quantitative","axis":null},"y":{"field":"y","type":"quantitative","axis":null},"shape":{"field":"d","type":"nominal","scale":{"domain":["L","R"],"range":["triangle-left","triangle-right"]},"legend":null}}},
{"data":{"values":[{"x":426.4,"y":-84.0,"t":"424"},{"x":671.1,"y":-84.0,"t":"664"},{"x":712.4,"y":-84.0,"t":"675"},{"x":423.7,"y":-109.9,"t":"414"},{"x":468.0,"y":-109.9,"t":"451"},{"x":517.1,"y":-109.9,"t":"tattgc"},{"x":573.2,"y":-109.9,"t":"tattgc"},{"x":672.2,"y":-109.9,"t":"672"},{"x":713.1,"y":-109.9,"t":"705"},{"x":559.0,"y":-136.7,"t":"ttcgt"},{"x":608.7,"y":-136.7,"t":"ttgct"}]},
"mark":{"type":"text","font":"Liberation Serif","fontSize":16.5,"color":"#222","align":"center","baseline":"middle"},
"encoding":{"x":{"field":"x","type":"quantitative","axis":null},"y":{"field":"y","type":"quantitative","axis":null},"text":{"field":"t"}}},
{"data":{"values":[{"x":64.3,"y":179.7,"t":"X37D"}]},"mark":{"type":"text","font":"Liberation Sans","fontWeight":"bold","fontSize":26,"color":"black","align":"center","baseline":"alphabetic"},
"encoding":{"x":{"field":"x","type":"quantitative","axis":null},"y":{"field":"y","type":"quantitative","axis":null},"text":{"field":"t"}}},
{"data":{"values":[{"x":-21.9,"y":117.5,"t":"%"},{"x":1022,"y":117.5,"t":"%"}]},"mark":{"type":"text","font":"DejaVu Sans Mono","fontSize":8,"color":"#333","align":"center","baseline":"middle"},
"encoding":{"x":{"field":"x","type":"quantitative","axis":null},"y":{"field":"y","type":"quantitative","axis":null},"text":{"field":"t"}}}
]},
{"width":867,"height":273,"resolve":{"axis":{"x":"independent","y":"independent"}},
"layer":[
{"data":{"values":[{"x1":-29.8,"x2":998.1,"y1":-106.6,"y2":223.7}]},"mark":{"type":"rect","fill":"#e9e9e9"},
"encoding":{"x":{"field":"x1","type":"quantitative","scale":{"domain":[-115.0,998.1],"nice":false,"zero":false},"axis":{"orient":"bottom","offset":-77.3,"title":null,"format":"d","values":[100,200,300,400,500,600,700,800,900],"ticks":false,"labelPadding":2,"zindex":1}},"x2":{"field":"x2"},
"y":{"field":"y1","type":"quantitative","scale":{"domain":[-115.6,236.2],"nice":false,"zero":false},"axis":{"orient":"left","offset":-89.6,"title":null,"values":[0,20,40,60,80,100],"tickSize":3,"labelPadding":3,"zindex":1}},"y2":{"field":"y2"}}},
{"data":{"values":[{"x1":559.5,"x2":701.4,"y1":-30.5,"y2":183.0}]},"mark":{"type":"rect","fill":"#f2d3d3","stroke":"#444","strokeWidth":1},
"encoding":{"x":{"field":"x1","type":"quantitative","axis":{"orient":"top","offset":-93,"title":null,"format":"d","values":[100,200,300,400,500,600,700,800,900],"ticks":false,"labelPadding":3,"zindex":1}},"x2":{"field":"x2"},"y":{"field":"y1","type":"quantitative","axis":null},"y2":{"field":"y2"}}},
{"data":{"values":[{"x1":0,"x2":997,"y1":116.4,"y2":116.4},{"x1":0,"x2":997,"y1":-16.0,"y2":-16.0},{"x1":0,"x2":0,"y1":-16.0,"y2":116.4}]},"mark":{"type":"rule","color":"#222","strokeWidth":1},
"encoding":{"x":{"field":"x1","type":"quantitative","axis":null},"x2":{"field":"x2"},"y":{"field":"y1","type":"quantitative","axis":null},"y2":{"field":"y2"}}},
{"data":{"values":[{"x1":0,"x2":997,"y":0},{"x1":0,"x2":997,"y":100}]},"mark":{"type":"rule","color":"#6a78e6","strokeWidth":1.3,"strokeDash":[6,3]},
"encoding":{"x":{"field":"x1","type":"quantitative","axis":null},"x2":{"field":"x2"},"y":{"field":"y","type":"quantitative","axis":null}}},
{"data":{"values":[{"x1":0,"x2":997,"y":25},{"x1":0,"x2":997,"y":50},{"x1":0,"x2":997,"y":75}]},"mark":{"type":"rule","color":"#333","strokeWidth":1,"strokeDash":[2,3]},
"encoding":{"x":{"field":"x1","type":"quantitative","axis":null},"x2":{"field":"x2"},"y":{"field":"y","type":"quantitative","axis":null}}},
{"data":{"name":"m1"},"mark":{"type":"rule","color":"#111","strokeWidth":1.4},"encoding":{"x":{"field":"x","type":"quantitative","axis":null},"y":{"datum":116.4,"type":"quantitative","axis":null},"y2":{"datum":111.25}}},
{"data":{"name":"m1"},"mark":{"type":"rule","color":"#111","strokeWidth":1.4},"encoding":{"x":{"field":"x","type":"quantitative","axis":null},"y":{"datum":-16.0,"type":"quantitative","axis":null},"y2":{"datum":-10.85}}},
{"data":{"name":"M9"},"mark":{"type":"rule","color":"#111","strokeWidth":1.4},"encoding":{"x":{"field":"x","type":"quantitative","axis":null},"y":{"datum":116.4,"type":"quantitative","axis":null},"y2":{"datum":108.7}}},
{"data":{"name":"M9"},"mark":{"type":"rule","color":"#111","strokeWidth":1.4},"encoding":{"x":{"field":"x","type":"quantitative","axis":null},"y":{"datum":-16.0,"type":"quantitative","axis":null},"y2":{"datum":-8.3}}},
{"data":{"name":"yt"},"mark":{"type":"rule","color":"#111","strokeWidth":1.4},"encoding":{"y":{"field":"y","type":"quantitative","axis":null},"x":{"datum":0,"type":"quantitative","axis":null},"x2":{"datum":-5.1}}},
{"data":{"name":"c5"},"mark":{"type":"line","color":"black","strokeWidth":2},"encoding":{"x":{"field":"x","type":"quantitative","axis":null},"y":{"field":"v","type":"quantitative","axis":null}}},
{"data":{"values":[{"x1":303.6,"x2":563.0,"y":201.4},{"x1":701.4,"x2":961.5,"y":198.8}]},"mark":{"type":"rule","color":"black","strokeWidth":4},
"encoding":{"x":{"field":"x1","type":"quantitative","axis":null},"x2":{"field":"x2"},"y":{"field":"y","type":"quantitative","axis":null}}},
{"data":{"values":[{"x":303.6,"y":201.4,"d":"L"},{"x":961.5,"y":198.8,"d":"R"}]},"mark":{"type":"point","filled":true,"color":"black","size":240,"opacity":1,"strokeWidth":0},
"encoding":{"x":{"field":"x","type":"quantitative","axis":null},"y":{"field":"y","type":"quantitative","axis":null},"shape":{"field":"d","type":"nominal","scale":{"domain":["L","R"],"range":["triangle-left","triangle-right"]},"legend":null}}},
{"data":{"values":[{"x":418.5,"y":-46.9,"t":"439"},{"x":459.4,"y":-46.9,"t":"449"},{"x":507.6,"y":-46.9,"t":"520"},{"x":691.5,"y":-46.9,"t":"700"},{"x":452.2,"y":-74.0,"t":"448"},{"x":529.0,"y":-74.0,"t":"506517545"},{"x":737.0,"y":-74.0,"t":"757"},{"x":539.9,"y":-101.8,"t":"agcaata"},{"x":615.2,"y":-101.8,"t":"agcaa"},{"x":673.8,"y":-101.8,"t":"ttgct"}]},
"mark":{"type":"text","font":"Liberation Serif","fontSize":19,"color":"#222","align":"center","baseline":"middle"},
"encoding":{"x":{"field":"x","type":"quantitative","axis":null},"y":{"field":"y","type":"quantitative","axis":null},"text":{"field":"t"}}},
{"data":{"values":[{"x":627.9,"y":-77.8,"t":"tattgc"}]},"mark":{"type":"text","font":"Liberation Serif","fontSize":15,"color":"#222","align":"center","baseline":"middle"},
"encoding":{"x":{"field":"x","type":"quantitative","axis":null},"y":{"field":"y","type":"quantitative","axis":null},"text":{"field":"t"}}},
{"data":{"values":[{"x":94.8,"y":166.6,"t":"BE76"}]},"mark":{"type":"text","font":"Liberation Sans","fontWeight":"bold","fontSize":26,"color":"black","align":"center","baseline":"alphabetic"},
"encoding":{"x":{"field":"x","type":"quantitative","axis":null},"y":{"field":"y","type":"quantitative","axis":null},"text":{"field":"t"}}},
{"data":{"values":[{"x":-22.7,"y":118.6,"t":"%"}]},"mark":{"type":"text","font":"DejaVu Sans Mono","fontSize":8,"color":"#333","align":"center","baseline":"middle"},
"encoding":{"x":{"field":"x","type":"quantitative","axis":null},"y":{"field":"y","type":"quantitative","axis":null},"text":{"field":"t"}}}
]},
{"width":867,"height":285,"resolve":{"axis":{"x":"independent","y":"independent"}},
"layer":[
{"data":{"values":[{"x1":-68.6,"x2":2053.3,"y1":-123.1,"y2":246.1}]},"mark":{"type":"rect","fill":"#e9e9e9"},
"encoding":{"x":{"field":"x1","type":"quantitative","scale":{"domain":[-244.6,2053.3],"nice":false,"zero":false},"axis":{"orient":"bottom","offset":-82.7,"title":null,"format":"d","values":[100,200,300,400,500,600,700,800,900,1000,1100,1200,1300,1400,1500,1600,1700,1800,1900,2000],"ticks":false,"labelPadding":2,"zindex":1}},"x2":{"field":"x2"},
"y":{"field":"y1","type":"quantitative","scale":{"domain":[-123.1,255.4],"nice":false,"zero":false},"axis":{"orient":"left","offset":-92.3,"title":null,"values":[0,20,40,60,80,100],"tickSize":3,"labelPadding":3,"zindex":1}},"y2":{"field":"y2"}}},
{"data":{"values":[{"x1":769.7,"x2":1206.5,"y1":-44.8,"y2":119.5}]},"mark":{"type":"rect","fill":"#f2d3d3","stroke":"#444","strokeWidth":1},
"encoding":{"x":{"field":"x1","type":"quantitative","axis":{"orient":"top","offset":-105.7,"title":null,"format":"d","values":[100,200,300,400,500,600,700,800,900,1000,1100,1200,1300,1400,1500,1600,1700,1800,1900,2000],"ticks":false,"labelPadding":3,"zindex":1}},"x2":{"field":"x2"},"y":{"field":"y1","type":"quantitative","axis":null},"y2":{"field":"y2"}}},
{"data":{"values":[{"x1":0,"x2":2000,"y1":115.0,"y2":115.0},{"x1":0,"x2":2000,"y1":-13.3,"y2":-13.3},{"x1":0,"x2":0,"y1":-13.3,"y2":115.0},{"x1":2000,"x2":2000,"y1":-13.3,"y2":115.0}]},"mark":{"type":"rule","color":"#222","strokeWidth":1},
"encoding":{"x":{"field":"x1","type":"quantitative","axis":null},"x2":{"field":"x2"},"y":{"field":"y1","type":"quantitative","axis":{"orient":"right","offset":-20.1,"title":null,"values":[0,20,40,60,80,100],"tickSize":3,"labelPadding":3,"zindex":1,"labelExpr":"datum.value === 100 ? '10' : datum.label"}},"y2":{"field":"y2"}}},
{"data":{"values":[{"x1":0,"x2":2000,"y":0},{"x1":0,"x2":2000,"y":100}]},"mark":{"type":"rule","color":"#6a78e6","strokeWidth":1.3,"strokeDash":[6,3]},
"encoding":{"x":{"field":"x1","type":"quantitative","axis":null},"x2":{"field":"x2"},"y":{"field":"y","type":"quantitative","axis":null}}},
{"data":{"values":[{"x1":0,"x2":2000,"y":25},{"x1":0,"x2":2000,"y":50},{"x1":0,"x2":2000,"y":75}]},"mark":{"type":"rule","color":"#333","strokeWidth":1,"strokeDash":[2,3]},
"encoding":{"x":{"field":"x1","type":"quantitative","axis":null},"x2":{"field":"x2"},"y":{"field":"y","type":"quantitative","axis":null}}},
{"data":{"name":"m2"},"mark":{"type":"rule","color":"#111","strokeWidth":1.1},"encoding":{"x":{"field":"x","type":"quantitative","axis":null},"y":{"datum":115.0,"type":"quantitative","axis":null},"y2":{"datum":109.7}}},
{"data":{"name":"m2"},"mark":{"type":"rule","color":"#111","strokeWidth":1.1},"encoding":{"x":{"field":"x","type":"quantitative","axis":null},"y":{"datum":-13.3,"type":"quantitative","axis":null},"y2":{"datum":-8.0}}},
{"data":{"name":"M20"},"mark":{"type":"rule","color":"#111","strokeWidth":1.4},"encoding":{"x":{"field":"x","type":"quantitative","axis":null},"y":{"datum":115.0,"type":"quantitative","axis":null},"y2":{"datum":107.0}}},
{"data":{"name":"M20"},"mark":{"type":"rule","color":"#111","strokeWidth":1.4},"encoding":{"x":{"field":"x","type":"quantitative","axis":null},"y":{"datum":-13.3,"type":"quantitative","axis":null},"y2":{"datum":-5.3}}},
{"data":{"name":"yt"},"mark":{"type":"rule","color":"#111","strokeWidth":1.4},"encoding":{"y":{"field":"y","type":"quantitative","axis":null},"x":{"datum":0,"type":"quantitative","axis":null},"x2":{"datum":-10.6}}},
{"data":{"name":"yt"},"mark":{"type":"rule","color":"#111","strokeWidth":1.4},"encoding":{"y":{"field":"y","type":"quantitative","axis":null},"x":{"datum":2000,"type":"quantitative","axis":null},"x2":{"datum":2010.6}}},
{"data":{"name":"c6"},"mark":{"type":"line","color":"black","strokeWidth":2},"encoding":{"x":{"field":"x","type":"quantitative","axis":null},"y":{"field":"v","type":"quantitative","axis":null}}},
{"data":{"values":[{"x1":-17.8,"x2":620.2,"y":146.9},{"x1":1313.3,"x2":2020.2,"y":138.1}]},"mark":{"type":"rule","color":"black","strokeWidth":4},
"encoding":{"x":{"field":"x1","type":"quantitative","axis":null},"x2":{"field":"x2"},"y":{"field":"y","type":"quantitative","axis":null}}},
{"data":{"values":[{"x":-17.8,"y":146.9,"d":"L"},{"x":2020.2,"y":138.1,"d":"R"}]},"mark":{"type":"point","filled":true,"color":"black","size":240,"opacity":1,"strokeWidth":0},
"encoding":{"x":{"field":"x","type":"quantitative","axis":null},"y":{"field":"y","type":"quantitative","axis":null},"shape":{"field":"d","type":"nominal","scale":{"domain":["L","R"],"range":["triangle-left","triangle-right"]},"legend":null}}},
{"data":{"values":[{"x":722.8,"y":-60.7,"t":"723729"},{"x":1135.2,"y":-60.7,"t":"1276"},{"x":106.3,"y":-84.2,"t":"97"},{"x":637.7,"y":-84.2,"t":"681"},{"x":738.7,"y":-84.2,"t":"720726"},{"x":1174.9,"y":-84.2,"t":"1317"},{"x":1272.5,"y":-84.2,"t":"1473"}]},
"mark":{"type":"text","font":"Liberation Serif","fontSize":15,"color":"#222","align":"center","baseline":"middle"},
"encoding":{"x":{"field":"x","type":"quantitative","axis":null},"y":{"field":"y","type":"quantitative","axis":null},"text":{"field":"t"}}},
{"data":{"values":[{"x":858.2,"y":-108.5,"t":"gcaa(a)a"}]},"mark":{"type":"text","font":"Liberation Serif","fontSize":17,"color":"#222","align":"center","baseline":"middle"},
"encoding":{"x":{"field":"x","type":"quantitative","axis":null},"y":{"field":"y","type":"quantitative","axis":null},"text":{"field":"t"}}},
{"data":{"values":[{"x":181.0,"y":176.6,"t":"CG10324"},{"x":1609.3,"y":176.6,"t":"CG8977"}]},"mark":{"type":"text","font":"Liberation Serif","fontSize":18.5,"color":"#222","align":"center","baseline":"alphabetic"},
"encoding":{"x":{"field":"x","type":"quantitative","axis":null},"y":{"field":"y","type":"quantitative","axis":null},"text":{"field":"t"}}},
{"data":{"values":[{"x":224.5,"y":205.8,"t":"Ubx -region"}]},"mark":{"type":"text","font":"Liberation Sans","fontWeight":"bold","fontSize":33,"color":"black","align":"center","baseline":"alphabetic"},
"encoding":{"x":{"field":"x","type":"quantitative","axis":null},"y":{"field":"y","type":"quantitative","axis":null},"text":{"field":"t"}}},
{"data":{"values":[{"x":-43.7,"y":117.3,"t":"%"}]},"mark":{"type":"text","font":"DejaVu Sans Mono","fontSize":8,"color":"#333","align":"center","baseline":"middle"},
"encoding":{"x":{"field":"x","type":"quantitative","axis":null},"y":{"field":"y","type":"quantitative","axis":null},"text":{"field":"t"}}}
]}
]
}
